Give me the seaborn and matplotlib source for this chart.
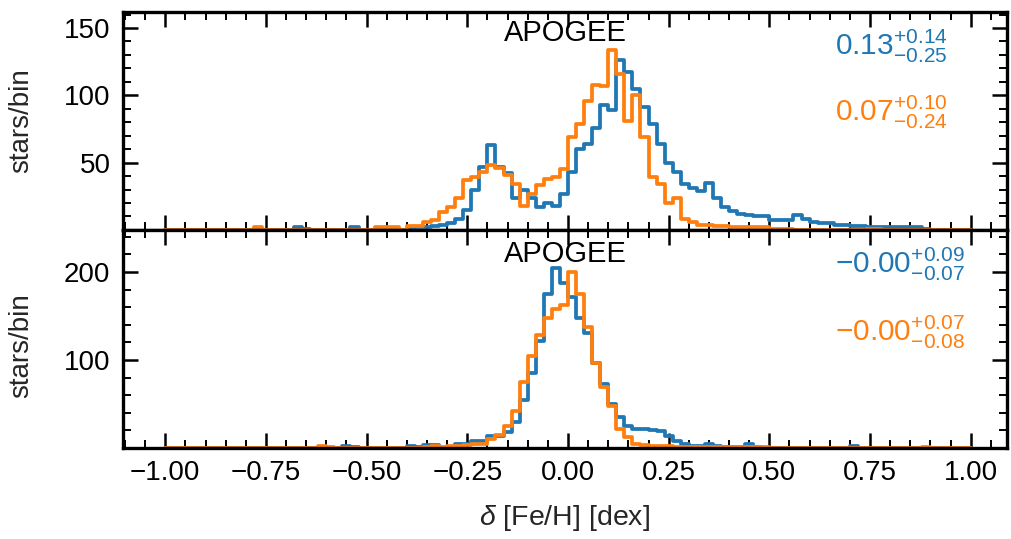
import numpy as np
import pandas as pd
import matplotlib
matplotlib.use("Agg")
import matplotlib.pyplot as plt
from matplotlib.ticker import MultipleLocator
import seaborn as sns

# ---------------- data ----------------
bin_lo, bin_hi, bin_w = -1.0, 1.0, 0.02   # histogram bins (left edge -1.00, width 0.02)

# top panel (stars/bin), 100 bins from -1.00 to 1.00
top_blue = [
    0, 0, 0, 0, 0, 0, 0, 0, 0, 0,
    0, 0, 0, 0, 0, 0, 2, 1, 0, 0,
    0, 0, 0, 2, 0, 0, 0, 0, 1, 0,
    1, 2, 2, 3, 4, 5, 8, 15, 30, 47,
    63, 47, 42, 24, 30, 24, 17, 20, 18, 27,
    43, 60, 64, 76, 93, 89, 126, 117, 105, 91,
    79, 64, 50, 43, 34, 31, 29, 35, 24, 17,
    14, 12, 11, 10, 10, 7, 7, 7, 11, 8,
    6, 5, 5, 4, 4, 3, 3, 2, 2, 2,
    2, 2, 2, 2, 1, 0, 0, 0, 0, 0,
]
top_orange = [
    0, 0, 0, 0, 0, 0, 0, 0, 0, 0,
    0, 2, 0, 0, 0, 0, 0, 0, 0, 0,
    0, 0, 0, 0, 0, 0, 2, 2, 2, 0,
    3, 3, 6, 7, 13, 17, 24, 37, 39, 43,
    48, 46, 41, 34, 18, 27, 33, 38, 39, 45,
    69, 79, 96, 108, 107, 134, 116, 81, 100, 69,
    39, 34, 20, 24, 8, 6, 4, 4, 3, 3,
    2, 2, 2, 2, 2, 1, 1, 1, 0, 0,
    0, 0, 0, 0, 0, 0, 0, 1, 1, 0,
    0, 0, 0, 0, 0, 0, 0, 0, 0, 0,
]
# bottom panel
bot_blue = [
    0, 0, 0, 0, 0, 0, 0, 0, 0, 0,
    0, 0, 0, 0, 0, 0, 0, 0, 0, 0,
    0, 0, 2, 1, 0, 0, 0, 0, 0, 0,
    2, 1, 3, 3, 0, 1, 5, 5, 8, 8,
    14, 14, 18, 29, 55, 85, 122, 175, 205, 188,
    172, 148, 131, 97, 73, 50, 35, 25, 21, 21,
    20, 19, 14, 8, 4, 2, 2, 5, 2, 1,
    1, 1, 5, 1, 0, 0, 0, 0, 0, 0,
    0, 0, 0, 0, 0, 2, 0, 0, 0, 0,
    0, 0, 0, 0, 0, 0, 0, 0, 0, 0,
]
bot_orange = [
    0, 0, 0, 0, 0, 0, 0, 0, 0, 0,
    0, 0, 0, 0, 0, 0, 0, 0, 0, 2,
    1, 0, 0, 0, 0, 0, 0, 0, 0, 0,
    0, 0, 1, 2, 1, 2, 2, 3, 4, 4,
    10, 15, 25, 42, 75, 105, 128, 148, 158, 162,
    200, 175, 138, 97, 69, 48, 22, 12, 5, 3,
    2, 2, 2, 1, 1, 1, 1, 1, 1, 1,
    1, 1, 1, 1, 1, 0, 0, 0, 0, 0,
    0, 0, 0, 0, 0, 0, 0, 0, 0, 0,
    0, 0, 0, 0, 1, 0, 0, 0, 0, 0,
]

panel_title = "APOGEE"
top_labels = [r"$0.13^{+0.14}_{-0.25}$", r"$0.07^{+0.10}_{-0.24}$"]
bot_labels = [r"$-0.00^{+0.09}_{-0.07}$", r"$-0.00^{+0.07}_{-0.08}$"]
xticks = [-1.0, -0.75, -0.5, -0.25, 0.0, 0.25, 0.5, 0.75, 1.0]
top_yticks = [50, 100, 150]
bot_yticks = [100, 200]

BLUE = "#1f77b4"
ORANGE = "#ff7f0e"

# ---------------- style ----------------
sns.set_theme(style="ticks")
plt.rcParams["font.family"] = ["Liberation Sans", "DejaVu Sans"]
plt.rcParams["mathtext.fontset"] = "custom"
plt.rcParams["mathtext.rm"] = "Liberation Sans"
plt.rcParams["mathtext.it"] = "Liberation Sans:italic"
plt.rcParams["mathtext.bf"] = "Liberation Sans:bold"

edges = [round(v, 2) for v in np.arange(bin_lo, bin_hi + bin_w / 2, bin_w)]
centers = np.array(edges[:-1]) + bin_w / 2

fig, (ax1, ax2) = plt.subplots(2, 1, sharex=True, figsize=(10.12, 5.39), dpi=100)
fig.subplots_adjust(left=0.1215, right=0.995, top=0.978, bottom=0.169, hspace=0)

panels = [
    (ax1, top_blue, top_orange, top_labels, top_yticks, 162, 10, 0.903, (0.843, 0.54), 0.50),
    (ax2, bot_blue, bot_orange, bot_labels, bot_yticks, 248, 20, 0.89, (0.84, 0.53), 0.47),
]
for ax, blue, orange, labels, yt, ytop, yminor, ty, ly, ylab_y in panels:
    for counts, col in ((blue, BLUE), (orange, ORANGE)):
        df = pd.DataFrame({"x": centers, "w": counts})
        sns.histplot(data=df, x="x", weights="w", bins=edges, element="step",
                     fill=False, color=col, linewidth=2.7, ax=ax)
    ax.set_xlim(-1.105, 1.09)
    ax.set_ylim(0, ytop)
    ax.set_xticks(xticks)
    ax.xaxis.set_minor_locator(MultipleLocator(0.05))
    ax.set_yticks(yt)
    ax.yaxis.set_minor_locator(MultipleLocator(yminor))
    ax.tick_params(which="both", direction="in", top=True, right=True,
                   colors="black", labelsize=20)
    ax.tick_params(which="major", length=11, width=1.8, pad=9)
    ax.tick_params(which="minor", length=6, width=1.4)
    for sp in ax.spines.values():
        sp.set_linewidth(2.4)
        sp.set_color("black")
    ax.set_ylabel("stars/bin", fontsize=20)
    ax.yaxis.set_label_coords(-0.1, ylab_y)
    ax.set_xlabel("")
    ax.text(0.5, ty, panel_title, transform=ax.transAxes, ha="center", va="center",
            fontsize=21, color="black")
    ax.text(0.806, ly[0], labels[0], transform=ax.transAxes, ha="left", va="center",
            fontsize=21.5, color=BLUE)
    ax.text(0.806, ly[1], labels[1], transform=ax.transAxes, ha="left", va="center",
            fontsize=21.5, color=ORANGE)

ax1.tick_params(labelbottom=False)
ax2.set_xlabel(r"$\delta$ [Fe/H] [dex]", fontsize=20.5, labelpad=12)

fig.savefig("out.png", dpi=100)
